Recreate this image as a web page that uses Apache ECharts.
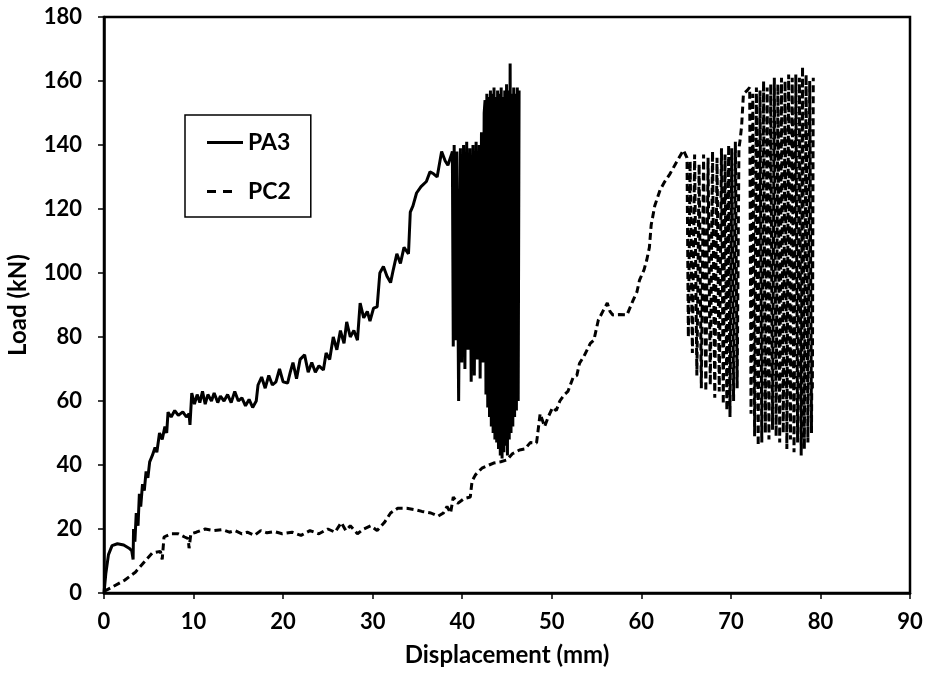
<!DOCTYPE html>
<html>
<head>
<meta charset="utf-8">
<script src="https://cdn.jsdelivr.net/npm/echarts@6/dist/echarts.min.js"></script>
<style>
  html, body { margin: 0; padding: 0; background: #fff; }
  #chart { width: 928px; height: 673px; }
</style>
</head>
<body>
<div id="chart"></div>
<script>
// Load–displacement records, [displacement (mm), load (kN)]

// PA3: initial loading up to first peak
const pa3Loading = [
  [0, 0], [0.2, 6], [0.5, 12], [0.9, 14.8], [1.5, 15.4], [2.2, 15], [2.8, 14], [3.1, 13.2], [3.25, 10.5],
  [3.3, 20], [3.45, 16], [3.6, 25], [3.8, 21], [3.95, 31], [4.1, 27], [4.3, 34], [4.5, 32], [4.7, 38],
  [4.9, 36], [5.1, 41], [5.4, 43], [5.7, 45.5], [5.9, 44], [6.2, 50], [6.5, 48], [6.8, 52], [7.0, 50],
  [7.15, 56.5], [7.5, 55], [7.9, 57], [8.3, 55.5], [8.8, 56.6], [9.2, 55], [9.5, 56], [9.6, 52.5],
  [9.8, 62.5], [10.1, 59], [10.4, 62], [10.7, 59.5], [11.0, 63], [11.3, 59], [11.6, 62], [12.0, 60],
  [12.3, 62.5], [12.7, 59.5], [13.0, 61.5], [13.4, 60], [13.8, 62], [14.2, 59.5], [14.6, 63], [15.0, 60],
  [15.4, 61], [15.8, 58.5], [16.2, 60.5], [16.6, 58], [17.0, 60], [17.2, 65], [17.6, 67.5], [18.0, 64],
  [18.4, 68], [18.8, 65], [19.2, 66], [19.6, 70], [20.0, 66], [20.5, 65.6], [20.8, 69], [21.1, 72],
  [21.5, 67], [21.9, 73], [22.4, 74.4], [22.8, 69], [23.2, 72], [23.6, 69], [24.0, 71], [24.5, 69.7],
  [24.8, 75], [25.2, 73], [25.6, 80], [26.0, 76], [26.4, 82], [26.8, 78], [27.1, 84.7], [27.5, 80],
  [27.9, 82], [28.3, 79], [28.6, 90.6], [29.0, 86], [29.4, 88], [29.7, 85], [30.1, 89], [30.5, 89.4],
  [30.8, 100], [31.2, 102], [31.6, 99], [32.0, 97], [32.3, 101], [32.7, 106], [33.1, 103], [33.5, 108],
  [34.0, 106], [34.2, 119], [34.5, 121], [34.9, 125], [35.4, 127], [36.0, 128.6], [36.4, 131.6],
  [36.8, 131], [37.2, 130], [37.7, 138], [38.1, 135], [38.4, 133.7], [38.8, 137]
];

// PA3: first group of load/unload cycles
const pa3CyclesA = [
  [38.9, 138], [39.0, 77], [39.1, 140], [39.25, 79], [39.4, 138], [39.6, 60], [39.8, 139], [39.95, 72],
  [40.15, 140], [40.3, 70], [40.5, 141], [40.65, 76], [40.85, 139], [41.0, 66], [41.2, 140], [41.35, 68],
  [41.55, 141], [41.7, 73], [41.9, 140], [42.0, 67], [42.15, 144], [42.3, 72], [42.45, 150]
];

// PA3: second group of load/unload cycles
const pa3CyclesB = [
  [42.55, 154], [42.65, 62], [42.75, 156], [42.85, 58], [42.95, 155], [43.05, 55], [43.15, 157],
  [43.25, 52], [43.35, 156], [43.45, 50], [43.55, 158], [43.65, 48], [43.75, 155], [43.85, 47],
  [43.95, 157], [44.05, 45], [44.15, 156], [44.25, 43], [44.35, 158], [44.45, 42], [44.55, 155],
  [44.65, 44], [44.75, 157], [44.85, 46], [44.95, 159], [45.05, 43], [45.15, 157], [45.25, 48],
  [45.35, 165.5], [45.45, 50], [45.55, 156], [45.65, 52], [45.75, 158], [45.85, 55], [45.95, 156],
  [46.05, 57], [46.15, 158], [46.25, 60], [46.35, 157]
];

// PC2: initial loading up to first peak
const pc2Loading = [
  [0, 0.5], [1.0, 2], [2.3, 4], [3.5, 6.5], [4.6, 10], [5.4, 12.5], [6.3, 13], [6.5, 10.5], [6.7, 17.5],
  [7.5, 18.5], [8.3, 18.5], [9.0, 17.5], [9.4, 17], [9.5, 14], [9.7, 18.5], [10.3, 19], [11.3, 20],
  [12.3, 19.5], [13.2, 19.8], [14.0, 19], [14.6, 19.5], [15.4, 18.5], [16.0, 19], [16.8, 18], [17.5, 19.5],
  [18.2, 18.8], [19.0, 19.2], [19.9, 18.5], [21.0, 19], [22.0, 18], [23.0, 19.5], [24.0, 18.5], [25.0, 20],
  [25.8, 19], [26.5, 22], [27.0, 19.5], [27.5, 21], [28.3, 18.5], [29.0, 20], [29.8, 21], [30.5, 19.5],
  [31.3, 22], [32.0, 25], [32.8, 26.5], [33.8, 26.5], [34.8, 26], [35.5, 25.5], [36.5, 25], [37.3, 24],
  [37.9, 25], [38.3, 27], [38.7, 25], [39.0, 30], [39.5, 28], [40.2, 29.5], [40.9, 30], [41.1, 35],
  [41.5, 37], [42.2, 39], [43.0, 40], [43.5, 40.6], [44.3, 41], [45.0, 41.6], [45.6, 43.5], [46.4, 44.7],
  [47.0, 45], [47.6, 47], [48.3, 46.9], [48.7, 56], [49.2, 52], [49.6, 55], [50.1, 58], [50.5, 57],
  [50.9, 60], [51.4, 62], [51.8, 63], [52.4, 67.5], [52.8, 68], [53.1, 71.8], [53.6, 74], [54.3, 78],
  [54.7, 79], [55.2, 85.3], [55.7, 88], [56.2, 90.6], [56.5, 88], [56.8, 86.9], [57.5, 87], [58.4, 86.9],
  [58.6, 86.5], [59.1, 91.6], [59.5, 94], [59.8, 97.8], [60.3, 101], [60.6, 104], [60.9, 108],
  [61.1, 115], [61.5, 121], [62.1, 126], [62.6, 128.5], [63.2, 131], [64.0, 135], [64.7, 138.4]
];

// PC2: first group of load/unload cycles
const pc2CyclesA = [
  [65.1, 136], [65.25, 80], [65.45, 135], [65.7, 75], [65.95, 137], [66.2, 68], [66.45, 134], [66.7, 64],
  [66.95, 137], [67.2, 63], [67.45, 136], [67.7, 65], [67.95, 138], [68.2, 61], [68.45, 136], [68.7, 63],
  [68.95, 139], [69.15, 59], [69.35, 137], [69.55, 57], [69.75, 140], [69.9, 55], [70.1, 139],
  [70.3, 60], [70.5, 141], [70.7, 64], [70.9, 139], [71.05, 142], [71.2, 146], [71.4, 156]
];

// PC2: second group of load/unload cycles
const pc2CyclesB = [
  [71.8, 157], [72.1, 158], [72.25, 56], [72.45, 156], [72.65, 49], [72.85, 158], [73.05, 46],
  [73.25, 157], [73.45, 47], [73.65, 160], [73.85, 50], [74.05, 158], [74.25, 48], [74.45, 159],
  [74.65, 51], [74.85, 161], [75.05, 49], [75.25, 159], [75.45, 47], [75.65, 161], [75.85, 50],
  [76.05, 160], [76.25, 45], [76.45, 162], [76.65, 48], [76.85, 161], [77.05, 44], [77.25, 162],
  [77.45, 47], [77.65, 161], [77.85, 43], [78.0, 164.5], [78.2, 45], [78.4, 162], [78.6, 47],
  [78.8, 160], [79.0, 50], [79.2, 161], [79.1, 64]
];

const seriesNames = ['PA3', 'PC2'];
const xTicks = { min: 0, max: 90, step: 10 };
const yTicks = { min: 0, max: 180, step: 20 };

const pa3 = pa3Loading.concat(pa3CyclesA, pa3CyclesB);
const pc2 = pc2Loading.concat(pc2CyclesA, pc2CyclesB);

// Legend keys: a solid bar and a two-dash bar (filled paths, 36 units wide)
const solidKey = 'path://M0,0h36v3h-36z';
const dashKey = 'path://M0,0h9v3h-9zM16,0h9v3h-9zM36,0L36,3';

const FONT = 'Lato, "Open Sans", sans-serif';
const axisLabel = { color: '#000', fontSize: 22, fontWeight: 'bold', fontFamily: FONT };
const axisLine = { show: true, onZero: false, lineStyle: { color: '#000', width: 2.5 } };
const axisTick = { show: true, inside: false, length: 6, lineStyle: { color: '#000', width: 1.5 } };

const chart = echarts.init(document.getElementById('chart'), null, { renderer: 'canvas' });
chart.setOption({
  animation: false,
  backgroundColor: '#fff',
  grid: {
    left: 104, right: 18, top: 17, bottom: 80,
    outerBoundsMode: 'none',
    show: true, borderColor: '#000', borderWidth: 2.5, backgroundColor: 'transparent'
  },
  legend: {
    data: [
      { name: seriesNames[0], icon: solidKey },
      { name: seriesNames[1], icon: dashKey }
    ],
    orient: 'vertical',
    left: 185, top: 115,
    padding: [16, 20, 14, 22],
    itemGap: 26,
    itemWidth: 36,
    itemHeight: 3,
    borderColor: '#000', borderWidth: 1.5,
    backgroundColor: '#fff',
    itemStyle: { color: '#000', borderWidth: 0 },
    lineStyle: { width: 0 },
    textStyle: { color: '#000', fontSize: 23, fontWeight: 'bold', fontFamily: FONT, lineHeight: 22 }
  },
  xAxis: {
    type: 'value',
    min: xTicks.min, max: xTicks.max, interval: xTicks.step,
    name: 'Displacement (mm)',
    nameLocation: 'middle', nameGap: 50,
    nameTextStyle: { color: '#000', fontSize: 24, fontWeight: 'bold', fontFamily: FONT },
    axisLine, axisTick,
    axisLabel: Object.assign({ margin: 18 }, axisLabel),
    splitLine: { show: false }
  },
  yAxis: {
    type: 'value',
    min: yTicks.min, max: yTicks.max, interval: yTicks.step,
    name: 'Load (kN)',
    nameLocation: 'middle', nameGap: 74, nameRotate: 90,
    nameTextStyle: { color: '#000', fontSize: 24, fontWeight: 'bold', fontFamily: FONT },
    axisLine, axisTick,
    axisLabel: Object.assign({ margin: 22 }, axisLabel),
    splitLine: { show: false }
  },
  series: [
    {
      name: seriesNames[0], type: 'line', data: pa3,
      symbol: 'none', showSymbol: false, smooth: false,
      lineStyle: { color: '#000', width: 3, type: 'solid' },
      itemStyle: { color: '#000' }
    },
    {
      name: seriesNames[1], type: 'line', data: pc2,
      symbol: 'none', showSymbol: false, smooth: false,
      lineStyle: { color: '#000', width: 3, type: [7, 4] },
      itemStyle: { color: '#000' }
    }
  ]
});
</script>
</body>
</html>
